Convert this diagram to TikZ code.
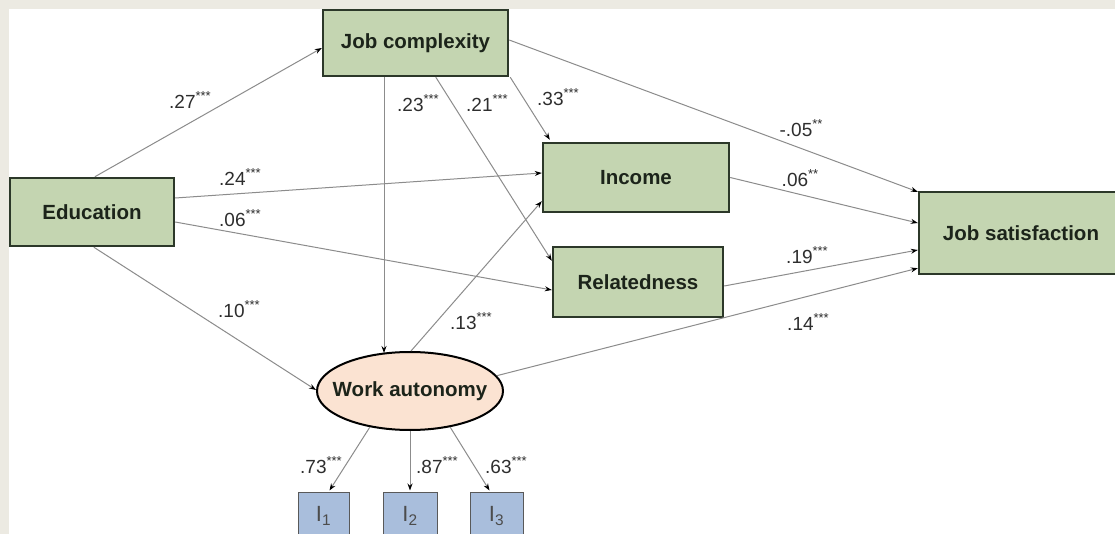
\documentclass[tikz,border=0pt]{standalone}
\usepackage{fontspec}
\setmainfont{Liberation Sans}
\usetikzlibrary{arrows.meta,calc,shapes.geometric}
\definecolor{bgband}{HTML}{ECEAE2}
\definecolor{boxgreen}{HTML}{C4D5B1}
\definecolor{boxline}{HTML}{2C3829}
\definecolor{peach}{HTML}{FBE3D2}
\definecolor{iblue}{HTML}{A9BEDC}
\definecolor{arrowgrey}{HTML}{8C8C8C}
\definecolor{labelgrey}{HTML}{2E2E2E}
\definecolor{nodetext}{HTML}{1C241A}
\newcommand{\sig}[1]{\raisebox{0.42em}{\fontsize{13}{14}\selectfont #1}}
\begin{document}
\begin{tikzpicture}[x=1pt,y=-1pt,
  var/.style={draw=boxline, line width=2.4pt, fill=boxgreen, rectangle, inner sep=0pt,
    font=\fontsize{20.5}{24}\selectfont\bfseries, text=nodetext},
  lat/.style={ellipse, draw=black, line width=2pt, fill=peach, minimum width=186pt,
    minimum height=78pt, inner sep=0pt, font=\fontsize{20.5}{24}\selectfont\bfseries, text=nodetext},
  ind/.style={draw=black!65, line width=1pt, fill=iblue, minimum width=53pt,
    minimum height=48pt, inner sep=0pt, font=\fontsize{22}{24}\selectfont, text=black!70},
  pth/.style={draw=arrowgrey, line width=1pt, -{Stealth[length=7pt,width=5pt,color=black]}},
  coef/.style={font=\fontsize{19}{20}\selectfont, text=labelgrey, inner sep=0pt}
]
\useasboundingbox (0,0) rectangle (1115,534);
\fill[white] (0,0) rectangle (1115,534);
\fill[bgband] (0,0) rectangle (1115,9);
\fill[bgband] (0,0) rectangle (9,534);

% nodes
\node[var, minimum width=164pt, minimum height=68pt] (edu) at (92,212) {Education};
\node[var, minimum width=185pt, minimum height=66pt] (jc) at (415.5,43) {Job complexity};
\node[var, minimum width=186pt, minimum height=69pt] (inc) at (636,177.5) {Income};
\node[var, minimum width=170pt, minimum height=70pt] (rel) at (638,282) {Relatedness};
\node[var, minimum width=204pt, minimum height=82pt] (js) at (1021,233) {Job satisfaction};
\node[lat] (wa) at (410,391) {\makebox[100pt]{Work autonomy}};
\node[ind, minimum width=51pt] (i1) at (323.5,516) {I\textsubscript{1}};
\node[ind, minimum width=54pt] (i2) at (410,516) {I\textsubscript{2}};
\node[ind, minimum width=53pt] (i3) at (496.5,516) {I\textsubscript{3}};

% paths
\draw[pth] ($(edu.north west)+(86,0)$) -- ($(jc.west)+(0,5)$);
\draw[pth] ($(edu.east)+(0,-14)$) -- ($(inc.west)+(0,-4.5)$);
\draw[pth] ($(edu.east)+(0,10)$) -- ($(rel.west)+(0,8)$);
\draw[pth] ($(edu.south west)+(85,0)$) -- ($(wa.west)+(0,-1)$);
\coordinate (wajc) at ($(wa.north)+(-26,2)$);
\draw[pth] (jc.south -| wajc) -- (wajc);
\draw[pth] ($(jc.south west)+(114,0)$) -- ($(rel.north west)+(0,15)$);
\draw[pth] ($(jc.south east)+(1,0)$) -- ($(inc.north west)+(8,-2)$);
\draw[pth] ($(jc.east)+(0,-3)$) -- ($(js.north west)+(0,1)$);
\draw[pth] (inc.east) -- ($(js.west)+(0,-10)$);
\draw[pth] ($(rel.east)+(0,4)$) -- ($(js.west)+(0,17)$);
\draw[pth] ($(wa.north)+(1,0)$) -- ($(inc.south west)+(0,-12)$);
\draw[pth] (wa.10) -- ($(js.south west)+(0,-7)$);
\draw[pth] (wa.222) -- ($(i1.north)+(6,-1)$);
\draw[pth] (wa.south) -- ($(i2.north)+(0,-1)$);
\draw[pth] (wa.318) -- ($(i3.north)+(-7,-1)$);

% coefficients
\node[coef] (l27) at (190,100) {.27\sig{***}};
\node[coef] (l24) at (240,177) {.24\sig{***}};
\node[coef] (l06a) at (240,218) {.06\sig{***}};
\node[coef] (l23) at (418,103) {.23\sig{***}};
\node[coef] (l21) at (487,103) {.21\sig{***}};
\node[coef] (l33) at (558,97) {.33\sig{***}};
\node[coef] (l05) at (801,128) {-.05\sig{**}};
\node[coef] (l06b) at (800,178) {.06\sig{**}};
\node[coef] (l19) at (807,255) {.19\sig{***}};
\node[coef] (l14) at (808,322) {.14\sig{***}};
\node[coef] (l10) at (239,309) {.10\sig{***}};
\node[coef] (l13) at (471,321) {.13\sig{***}};
\node[coef] (l73) at (321,465) {.73\sig{***}};
\node[coef] (l87) at (437,465) {.87\sig{***}};
\node[coef] (l63) at (506,465) {.63\sig{***}};
\end{tikzpicture}
\end{document}
